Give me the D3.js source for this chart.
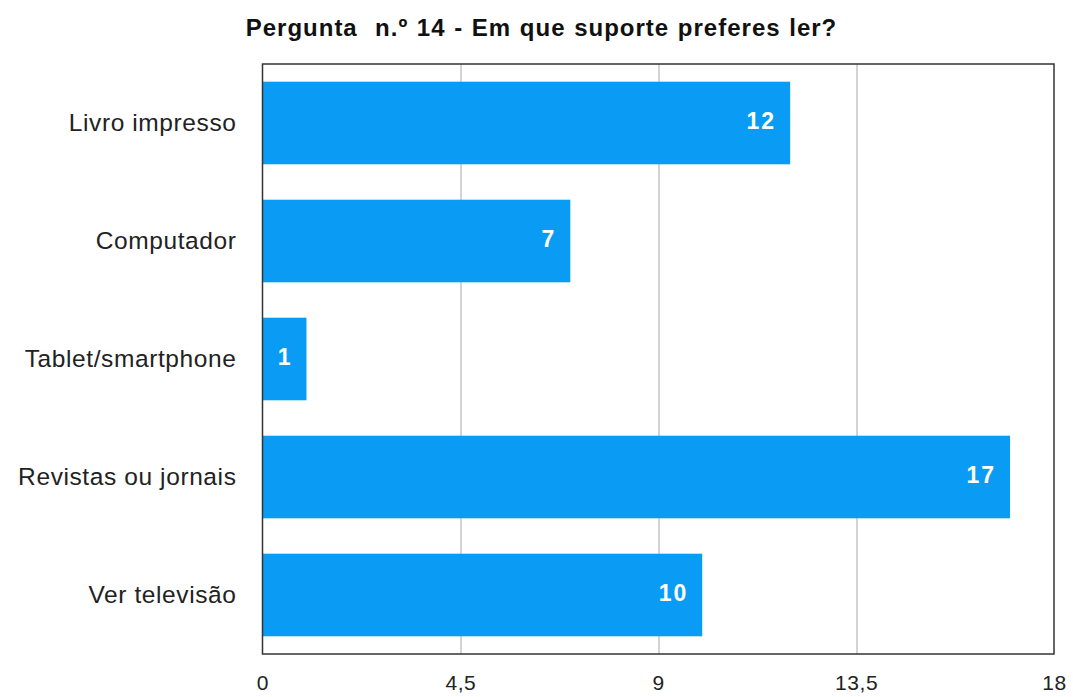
<!DOCTYPE html>
<html>
<head>
<meta charset="utf-8">
<script src="https://cdn.jsdelivr.net/npm/d3@7"></script>
<style>
  body { margin: 0; background: #fff; }
  svg { display: block; }
</style>
</head>
<body>
<div id="chart"></div>
<script>
var categories = ["Livro impresso", "Computador", "Tablet/smartphone", "Revistas ou jornais", "Ver televisão"];
var values = [12, 7, 1, 17, 10];
var ticks = [0, 4.5, 9, 13.5, 18];
var title = "Pergunta  n.º 14 - Em que suporte preferes ler?";

var docWidth = 1073,
    docHeight = 697;

var margin = {top: 64, right: 19, bottom: 43, left: 262.5},
    width = docWidth - margin.left - margin.right,
    height = docHeight - margin.top - margin.bottom;

var svg = d3.select("#chart").append("svg")
    .attr("width", docWidth)
    .attr("height", docHeight);

svg.append("text")
    .attr("x", 541.5)
    .attr("y", 36)
    .style("font-family", "Liberation Sans, Arial, sans-serif")
    .style("font-weight", "bold")
    .style("font-size", "24px")
    .style("letter-spacing", "1px")
    .style("word-spacing", "1px")
    .style("fill", "#111")
    .style("text-anchor", "middle")
    .style("white-space", "pre")
    .text(title);

var g = svg.append("g")
    .attr("transform", "translate(" + margin.left + "," + margin.top + ")");

var x = d3.scaleLinear()
    .domain([0, 18])
    .range([0, width]);

var y = d3.scaleBand()
    .domain(categories)
    .range([0, height])
    .paddingInner(0.3)
    .paddingOuter(0.15);

// grid lines
g.selectAll(".grid")
    .data(ticks.slice(1, -1))
    .enter().append("line")
    .attr("class", "grid")
    .attr("x1", function(d) { return Math.round(x(d)) + 0.5; })
    .attr("x2", function(d) { return Math.round(x(d)) + 0.5; })
    .attr("y1", 0)
    .attr("y2", height)
    .style("stroke", "#a8a8a8")
    .style("stroke-width", 1);

// bars
g.selectAll(".bar")
    .data(values)
    .enter().append("rect")
    .attr("class", "bar")
    .attr("x", x(0))
    .attr("y", function(d, i) { return y(categories[i]); })
    .attr("width", function(d) { return x(d) - x(0); })
    .attr("height", y.bandwidth())
    .style("fill", "#0a9cf5");

// value labels
g.selectAll(".val")
    .data(values)
    .enter().append("text")
    .attr("class", "val")
    .attr("x", function(d) { return x(d) - 14; })
    .attr("y", function(d, i) { return y(categories[i]) + y.bandwidth() / 2; })
    .attr("dy", ".25em")
    .style("font-family", "Liberation Sans, Arial, sans-serif")
    .style("font-weight", "bold")
    .style("font-size", "23px")
    .style("letter-spacing", "2px")
    .style("fill", "#fff")
    .style("text-anchor", "end")
    .text(function(d) { return d; });

// frame
g.append("rect")
    .attr("x", 0)
    .attr("y", 0)
    .attr("width", width)
    .attr("height", height)
    .style("fill", "none")
    .style("stroke", "#333")
    .style("stroke-width", 1.5);

// category axis
var yAxis = d3.axisLeft(y).tickSize(0).tickPadding(26);
g.append("g")
    .attr("class", "y axis")
    .call(yAxis)
    .call(function(a) { a.select(".domain").remove(); })
    .selectAll("text")
    .style("font-family", "Liberation Sans, Arial, sans-serif")
    .style("font-size", "24.5px")
    .style("letter-spacing", "0.6px")
    .style("fill", "#222");

// value axis
var xAxis = d3.axisBottom(x)
    .tickValues(ticks)
    .tickSize(0)
    .tickPadding(21)
    .tickFormat(function(d) { return String(d).replace(".", ","); });
g.append("g")
    .attr("class", "x axis")
    .attr("transform", "translate(0," + height + ")")
    .call(xAxis)
    .call(function(a) { a.select(".domain").remove(); })
    .selectAll("text")
    .style("font-family", "Liberation Sans, Arial, sans-serif")
    .style("font-size", "21px")
    .style("letter-spacing", "0.6px")
    .style("fill", "#222");
</script>
</body>
</html>
